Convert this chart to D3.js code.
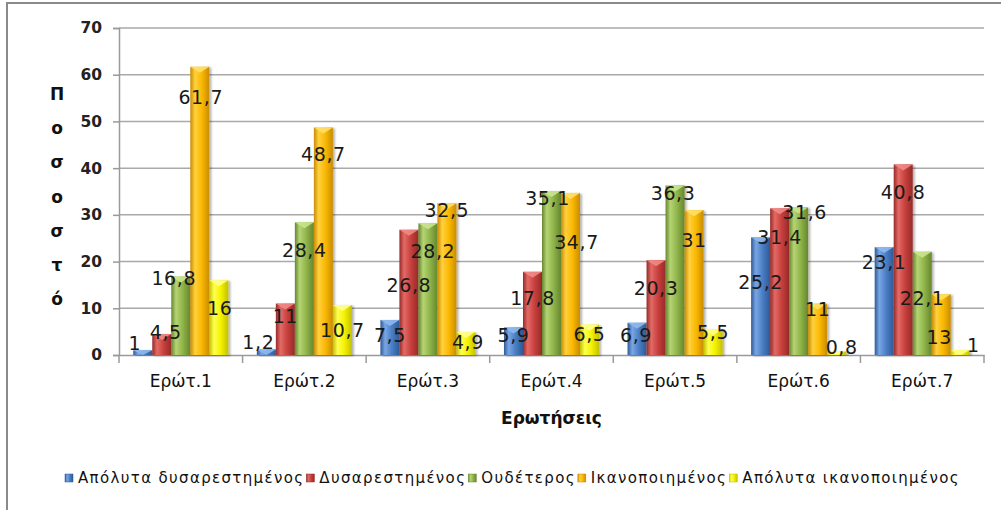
<!DOCTYPE html>
<html>
<head>
<meta charset="utf-8">
<script src="https://cdn.jsdelivr.net/npm/d3@7"></script>
<style>
  html, body { margin: 0; padding: 0; background: #fff; }
  svg { display: block; }
</style>
</head>
<body>
<svg id="chart" width="1001" height="510"></svg>
<script>
// ---- data ----
const categories = ["Ερώτ.1", "Ερώτ.2", "Ερώτ.3", "Ερώτ.4", "Ερώτ.5", "Ερώτ.6", "Ερώτ.7"];
const seriesNames = ["Απόλυτα δυσαρεστημένος", "Δυσαρεστημένος", "Ουδέτερος", "Ικανοποιημένος", "Απόλυτα ικανοποιημένος"];
const valuesVeryDissatisfied = [1, 1.2, 7.5, 5.9, 6.9, 25.2, 23.1];
const valuesDissatisfied     = [4.5, 11, 26.8, 17.8, 20.3, 31.4, 40.8];
const valuesNeutral          = [16.8, 28.4, 28.2, 35.1, 36.3, 31.6, 22.1];
const valuesSatisfied        = [61.7, 48.7, 32.5, 34.7, 31, 11, 13];
const valuesVerySatisfied    = [16, 10.7, 4.9, 6.5, 5.5, 0.8, 1];
const yTicks = [0, 10, 20, 30, 40, 50, 60, 70];
const yTitleLetters = ["Π", "ο", "σ", "ο", "σ", "τ", "ό"];
const xTitle = "Ερωτήσεις";

// label nudges (px, relative to bar top / bar centre) as placed in the original
const labelDy = [
  [-7, -7, 15, 8, 12, 45, 15],
  [-2, 13, 55, 26, 28, 29, 28],
  [2, 28, 28, 7, 8, 5, 46],
  [30, 27, 7, 49, 30, 6, 43],
  [28, 25, 10, 10, 3, -4, -5]
];
const labelDx = [
  [-8, -8, 0, 0, -1, 0, 0],
  [4, 0, 0, 0, 0, 0, 0],
  [-7, 0, 5, -4, -2, 6, 0],
  [1, 0, 0, 6, 0, 0, -2],
  [1, 0, 2, 0, 0, 5, 13]
];

const seriesValues = [valuesVeryDissatisfied, valuesDissatisfied, valuesNeutral, valuesSatisfied, valuesVerySatisfied];
const colors = [
  {base: "#4a7ec4", dark: "#2e5a96", light: "#79a6e4", top: "#8fb8ee"},
  {base: "#c8403d", dark: "#962a28", light: "#e36a66", top: "#ef8a86"},
  {base: "#90b54a", dark: "#66862e", light: "#b5d474", top: "#c9e48e"},
  {base: "#fbb900", dark: "#c98c00", light: "#ffd040", top: "#ffe06a"},
  {base: "#f5f200", dark: "#c4c000", light: "#ffff50", top: "#ffff90"}
];

const svg = d3.select("#chart");
const defs = svg.append("defs");
colors.forEach((c, i) => {
  const g = defs.append("linearGradient").attr("id", "g" + i)
    .attr("x1", "0%").attr("x2", "100%").attr("y1", "0%").attr("y2", "0%");
  g.append("stop").attr("offset", "0%").attr("stop-color", c.dark);
  g.append("stop").attr("offset", "25%").attr("stop-color", c.light);
  g.append("stop").attr("offset", "60%").attr("stop-color", c.base);
  g.append("stop").attr("offset", "100%").attr("stop-color", c.dark);
});
const f = defs.append("filter").attr("id", "shadow").attr("x", "-30%").attr("y", "-10%").attr("width", "160%").attr("height", "130%");
f.append("feDropShadow").attr("dx", 2).attr("dy", 1).attr("stdDeviation", 1.2)
  .attr("flood-color", "#000").attr("flood-opacity", 0.3);

// outer border
svg.append("rect").attr("x", 7).attr("y", 3).attr("width", 1010).attr("height", 520)
  .attr("fill", "#fff").attr("stroke", "#8a8a8a").attr("stroke-width", 2);

const plot = {left: 119, right: 984, top: 28, bottom: 355};
const x0 = d3.scaleBand().domain(categories).range([plot.left, plot.right]).padding(0);
const x1 = d3.scaleBand().domain(d3.range(seriesNames.length)).range([0, x0.bandwidth()])
  .paddingInner(0).paddingOuter(0.75);
const y = d3.scaleLinear().domain([0, 70]).range([plot.bottom, plot.top]);

// gridlines
svg.append("g").selectAll("line").data(yTicks.filter(t => t > 0)).join("line")
  .attr("x1", plot.left).attr("x2", plot.right)
  .attr("y1", d => y(d)).attr("y2", d => y(d))
  .attr("stroke", "#a9a9a9").attr("stroke-width", 1.5);

// y axis
const yAxis = svg.append("g").attr("transform", `translate(${plot.left},0)`)
  .call(d3.axisLeft(y).tickValues(yTicks).tickSize(6).tickPadding(11).tickFormat(d3.format("d")));
yAxis.attr("font-size", null).attr("font-family", null);
yAxis.select(".domain").attr("stroke", "#9a9a9a").attr("stroke-width", 1.5);
yAxis.selectAll(".tick line").attr("stroke", "#9a9a9a").attr("stroke-width", 1.5);
yAxis.selectAll(".tick text").attr("font-family", "DejaVu Sans").attr("font-weight", "bold")
  .attr("font-size", 15.5).attr("fill", "#222");

// x axis
const xAxis = svg.append("g").attr("transform", `translate(0,${plot.bottom})`)
  .call(d3.axisBottom(x0).tickSize(0).tickPadding(20));
xAxis.attr("font-size", null).attr("font-family", null);
xAxis.select(".domain").attr("stroke", "#9a9a9a").attr("stroke-width", 1.5);
xAxis.selectAll(".tick text").attr("font-family", "DejaVu Sans").attr("font-size", 17).attr("fill", "#111");
// category boundary tick marks
svg.append("g").selectAll("line").data(d3.range(categories.length + 1)).join("line")
  .attr("x1", i => plot.left + i * x0.step()).attr("x2", i => plot.left + i * x0.step())
  .attr("y1", plot.bottom).attr("y2", plot.bottom + 8)
  .attr("stroke", "#9a9a9a").attr("stroke-width", 1.5);

// bars
const barData = [];
seriesValues.forEach((vals, s) => vals.forEach((v, c) => barData.push({s, c, v})));
const barG = svg.append("g");
const bars = barG.selectAll("g.bar").data(barData).join("g").attr("class", "bar")
  .attr("filter", "url(#shadow)");
bars.append("rect")
  .attr("x", d => x0(categories[d.c]) + x1(d.s))
  .attr("y", d => y(d.v))
  .attr("width", x1.bandwidth())
  .attr("height", d => y(0) - y(d.v))
  .attr("fill", d => `url(#g${d.s})`);
bars.append("path")
  .attr("d", d => {
    const xl = x0(categories[d.c]) + x1(d.s), w = x1.bandwidth(), yt = y(d.v);
    const h = Math.min(6, (y(0) - yt));
    return `M${xl},${yt}L${xl + w},${yt}L${xl + w / 2},${yt + h}Z`;
  })
  .attr("fill", d => colors[d.s].top).attr("opacity", 0.9);

// data labels
svg.append("g").selectAll("text").data(barData).join("text")
  .attr("x", d => x0(categories[d.c]) + x1(d.s) + x1.bandwidth() / 2 + labelDx[d.s][d.c])
  .attr("y", d => y(d.v) + labelDy[d.s][d.c])
  .attr("dy", "0.36em")
  .attr("text-anchor", "middle")
  .attr("font-family", "DejaVu Sans").attr("font-size", 19).attr("letter-spacing", 0.6).attr("fill", "#1a1a1a")
  .text(d => String(d.v).replace(".", ","));

// y title (stacked letters)
svg.append("g").selectAll("text").data(yTitleLetters).join("text")
  .attr("x", 57).attr("y", (d, i) => 100 + i * 34.2)
  .attr("text-anchor", "middle")
  .attr("font-family", "DejaVu Sans").attr("font-weight", "bold").attr("font-size", 17).attr("fill", "#111")
  .text(d => d);

// x title
svg.append("text").attr("x", (plot.left + plot.right) / 2).attr("y", 424)
  .attr("text-anchor", "middle")
  .attr("font-family", "DejaVu Sans").attr("font-weight", "bold").attr("font-size", 17).attr("fill", "#111")
  .text(xTitle);

// legend
const legend = svg.append("g");
let lx = 65;
const ly = 478;
seriesNames.forEach((name, i) => {
  legend.append("rect").attr("x", lx).attr("y", ly - 4).attr("width", 8).attr("height", 8)
    .attr("fill", `url(#g${i})`).attr("stroke", colors[i].dark).attr("stroke-width", 0.5);
  const t = legend.append("text").attr("x", lx + 13).attr("y", ly).attr("dy", "0.36em")
    .attr("font-family", "DejaVu Sans").attr("font-size", 15).attr("letter-spacing", 1.35)
    .attr("fill", "#111").text(name);
  lx += 13 + t.node().getComputedTextLength() + 2;
});
</script>
</body>
</html>
